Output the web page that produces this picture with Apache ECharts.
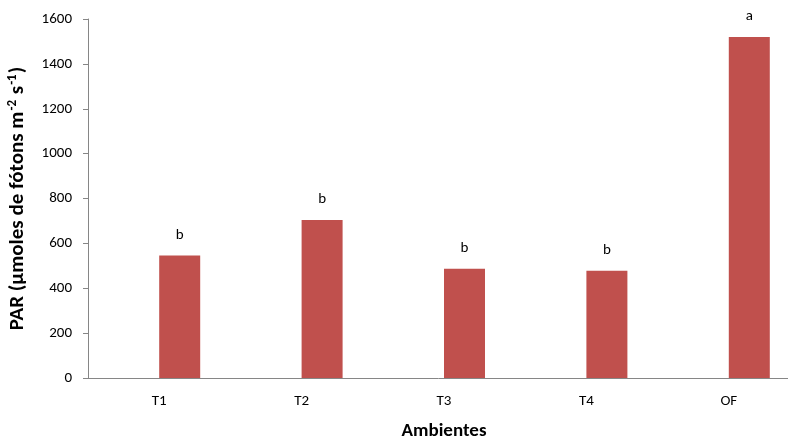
<!DOCTYPE html>
<html>
<head>
<meta charset="utf-8">
<script src="https://cdn.jsdelivr.net/npm/echarts@6/dist/echarts.min.js"></script>
<style>
  html, body { margin: 0; padding: 0; background: #fff; }
  #chart { width: 788px; height: 438px; }
</style>
</head>
<body>
<div id="chart"></div>
<script>
// Ambientes and their mean PAR values, with significance letters
const categories = ['T1', 'T2', 'T3', 'T4', 'OF'];
const parValues = [546, 704, 487, 478, 1520];
const letters = ['b', 'b', 'b', 'b', 'a'];
const yTicks = { min: 0, max: 1600, interval: 200 };

const FONT = 'Carlito, Lato, "Liberation Sans", sans-serif';
const chart = echarts.init(document.getElementById('chart'), null, { renderer: 'canvas' });

chart.setOption({
  animation: false,
  backgroundColor: '#ffffff',
  textStyle: { fontFamily: FONT },
  grid: { left: 88, top: 19, width: 712, height: 359, containLabel: false, outerBoundsMode: 'none' },
  xAxis: {
    type: 'category',
    data: categories,
    name: 'Ambientes',
    nameLocation: 'middle',
    nameGap: 44,
    nameTextStyle: { fontFamily: FONT, fontWeight: 'bold', fontSize: 19, color: '#000' },
    axisLine: { lineStyle: { color: '#868686', width: 1 } },
    axisTick: { show: false },
    axisLabel: { fontFamily: FONT, fontSize: 15, color: '#000', margin: 16 },
    splitLine: { show: false }
  },
  yAxis: {
    type: 'value',
    min: yTicks.min,
    max: yTicks.max,
    interval: yTicks.interval,
    name: '{b|PAR (µmoles de fótons m}{sup|-2}{b| s}{sup|-1}{b|)}',
    nameLocation: 'middle',
    nameRotate: 90,
    nameGap: 58,
    nameTextStyle: {
      rich: {
        b: { fontFamily: FONT, fontWeight: 'bold', fontSize: 21, color: '#000', lineHeight: 24 },
        sup: { fontFamily: FONT, fontWeight: 'bold', fontSize: 13, color: '#000', verticalAlign: 'top', lineHeight: 24, padding: [0, 1, 10, 1] }
      }
    },
    axisLine: { show: true, lineStyle: { color: '#868686', width: 1 } },
    axisTick: { show: true, length: 5, inside: false, lineStyle: { color: '#868686' } },
    axisLabel: {
      fontFamily: FONT, fontSize: 15, color: '#000', margin: 16,
      formatter: (v) => String(v)
    },
    splitLine: { show: false }
  },
  series: [
    {
      // empty companion series that shares each category slot
      type: 'bar',
      data: categories.map(() => '-'),
      barWidth: 41,
      barGap: '0%'
    },
    {
      type: 'bar',
      data: parValues,
      barWidth: 41,
      barGap: '0%',
      itemStyle: { color: '#C0504D' },
      label: {
        show: true,
        position: 'top',
        distance: 13,
        fontFamily: FONT,
        fontSize: 15,
        color: '#000',
        formatter: (p) => letters[p.dataIndex]
      }
    }
  ]
});
</script>
</body>
</html>
